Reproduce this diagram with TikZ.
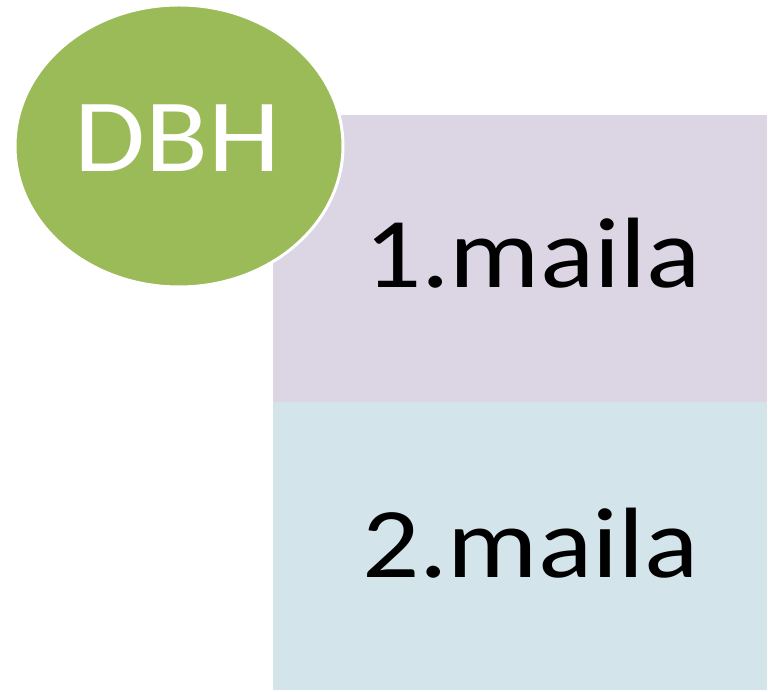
\documentclass[tikz,border=0pt]{standalone}
\usepackage{fontspec}
\setmainfont{Carlito}
\usetikzlibrary{shapes.geometric}
\definecolor{dbhgreen}{RGB}{155,187,89}
\definecolor{boxlilac}{RGB}{220,213,227}
\definecolor{boxblue}{RGB}{211,228,235}
\tikzset{
  boxpart/.style={draw=none, inner sep=0pt, anchor=north west},
  boxtext/.style={anchor=base west, inner sep=0pt, text=black, font=\fontsize{100}{110}\selectfont},
  dbhtext/.style={anchor=base, inner sep=0pt, text=white, font=\fontsize{104}{114}\selectfont}
}
\begin{document}
\begin{tikzpicture}[x=1pt,y=1pt]
\useasboundingbox (0,0) rectangle (768,692);
\fill[white] (0,0) rectangle (768,692);
% boxes
\node[boxpart, fill=boxlilac, minimum width=494pt, minimum height=287pt] (box1) at (273,577) {};
\node[boxpart, fill=boxblue, minimum width=494pt, minimum height=288pt] (box2) at (273,290) {};
\node[boxtext] (t1) at (364,404) {\scalebox{1.13}[1]{1.maila}};
\node[boxtext] (t2) at (362,114) {\scalebox{1.13}[1]{2.maila}};
% circle
\node[ellipse, fill=dbhgreen, draw=white, line width=3pt, minimum width=328pt, minimum height=282pt, inner sep=0pt] (dbh) at (179,546) {};
\node[dbhtext] (dbhlabel) at (177.5,520) {\scalebox{1.11}[1]{DBH}};
\end{tikzpicture}
\end{document}
